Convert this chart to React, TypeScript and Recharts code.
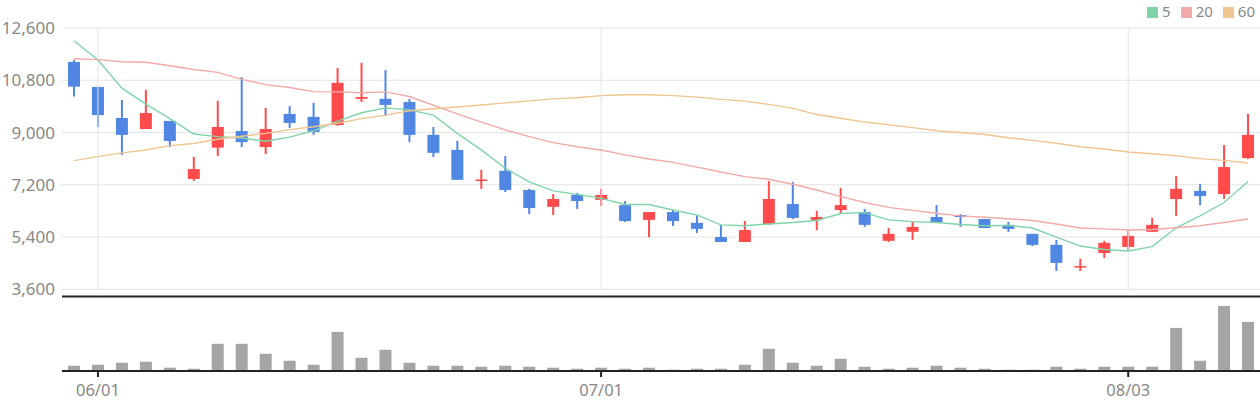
import {
  Bar,
  ComposedChart,
  CartesianGrid,
  Legend,
  Line,
  ReferenceLine,
  XAxis,
  YAxis,
} from "recharts";

const dates = [
  "05/31", "06/01", "06/02", "06/03", "06/04", "06/07", "06/08", "06/09", "06/10", "06/11",
  "06/14", "06/15", "06/16", "06/17", "06/18", "06/21", "06/22", "06/23", "06/24", "06/25",
  "06/28", "06/29", "07/01", "07/02", "07/05", "07/06", "07/07", "07/08", "07/09", "07/12",
  "07/13", "07/14", "07/15", "07/16", "07/19", "07/20", "07/21", "07/22", "07/23", "07/26",
  "07/27", "07/28", "07/29", "08/02", "08/03", "08/04", "08/05", "08/06", "08/09", "08/10",
];

const open = [
  11430, 10570, 9500, 9120, 9400, 7400, 8480, 9050, 8500, 9640,
  9540, 9260, 10160, 10160, 10050, 8920, 8400, 7340, 7680, 7020,
  6440, 6850, 6680, 6500, 5990, 6260, 5890, 5400, 5230, 5850,
  6540, 5990, 6330, 6260, 5270, 5580, 6090, 6160, 6020, 5820,
  5510, 5130, 4360, 4850, 5060, 5580, 6710, 6990, 6880, 8120,
];
const high = [
  11500, 10570, 10120, 10470, 9400, 8160, 10090, 10910, 9850, 9910,
  10020, 11220, 11400, 11150, 10160, 9190, 8710, 7710, 8190, 7060,
  6880, 6920, 7060, 6640, 6260, 6330, 6130, 5820, 5950, 7330,
  7300, 6300, 7090, 6370, 5710, 5950, 6500, 6190, 6020, 5920,
  5510, 5300, 4650, 5270, 5640, 6060, 7500, 7230, 8570, 9640,
];
const low = [
  10240, 9190, 8230, 9120, 8500, 7330, 8190, 8500, 8260, 9160,
  8920, 9230, 10050, 9570, 8670, 8160, 7370, 7060, 6950, 6190,
  6160, 6370, 6470, 5920, 5400, 5780, 5540, 5230, 5230, 5820,
  6020, 5640, 6230, 5750, 5230, 5300, 5890, 5750, 5710, 5580,
  5090, 4230, 4230, 4680, 4920, 5580, 6130, 6500, 6710, 8090,
];
const close = [
  10580, 9600, 8920, 9670, 8710, 7740, 9190, 8670, 9120, 9330,
  9020, 10710, 10220, 9950, 8920, 8300, 7370, 7380, 7020, 6400,
  6710, 6640, 6850, 5950, 6260, 5950, 5680, 5230, 5640, 6710,
  6060, 6090, 6500, 5820, 5510, 5750, 5920, 6090, 5710, 5680,
  5130, 4510, 4400, 5200, 5440, 5820, 7060, 6810, 7810, 8920,
];

const ma5 = [
  12160, 11500, 10530, 9980, 9480, 8950, 8860, 8810, 8700, 8840,
  9060, 9390, 9680, 9850, 9780, 9600, 8970, 8400, 7770, 7300,
  6990, 6870, 6730, 6520, 6520, 6330, 6160, 5820, 5790, 5850,
  5900, 5970, 6210, 6240, 5990, 5930, 5900, 5830, 5790, 5800,
  5710, 5400, 5090, 4970, 4920, 5070, 5720, 6130, 6590, 7310,
];
const ma20 = [
  11540, 11510, 11440, 11420, 11300, 11170, 11070, 10830, 10650, 10550,
  10410, 10400, 10370, 10400, 10240, 9940, 9640, 9360, 9090, 8860,
  8650, 8510, 8400, 8230, 8090, 7970, 7810, 7640, 7480, 7390,
  7220, 7020, 6790, 6590, 6420, 6320, 6220, 6130, 6080, 6030,
  5970, 5850, 5710, 5680, 5640, 5660, 5720, 5790, 5900, 6020,
];
const ma60 = [
  8030, 8170, 8300, 8400, 8550, 8620, 8770, 8870, 8970, 9100,
  9200, 9320, 9480, 9600, 9750, 9820, 9880, 9950, 10020, 10090,
  10160, 10200, 10270, 10300, 10300, 10270, 10220, 10140, 10080, 9970,
  9830, 9620, 9490, 9360, 9270, 9170, 9060, 9000, 8930, 8820,
  8730, 8630, 8510, 8430, 8330, 8270, 8200, 8100, 8040, 7950,
];

const volume = [
  53000, 63000, 83000, 93000, 33000, 23000, 273000, 273000, 173000, 103000,
  63000, 393000, 133000, 213000, 83000, 53000, 53000, 43000, 53000, 43000,
  33000, 23000, 33000, 23000, 33000, 13000, 23000, 23000, 63000, 223000,
  83000, 53000, 123000, 43000, 23000, 33000, 53000, 33000, 23000, 13000,
  13000, 43000, 23000, 43000, 43000, 43000, 433000, 103000, 653000, 493000,
];

const priceTicks = [3600, 5400, 7200, 9000, 10800, 12600];
const dateTicks = ["06/01", "07/01", "08/03"];

const UP = "#ff4b4b";
const DOWN = "#4f87e3";
const GRID = "#e3e3e3";
const TEXT = "#888888";
const FONT = '"Noto Sans", sans-serif';

const rows = dates.map((date, i) => ({
  date,
  open: open[i],
  high: high[i],
  low: low[i],
  close: close[i],
  range: [low[i], high[i]],
  ma5: ma5[i],
  ma20: ma20[i],
  ma60: ma60[i],
  volume: volume[i],
}));

// Bar gives us the high-low span in pixels; open/close are placed inside it
// using the same value-to-pixel ratio.
function Candle(props: any) {
  const { x, y, width, height, payload } = props;
  if (x == null || y == null) return null;
  const top = Math.min(y, y + height);
  const h = Math.abs(height);
  const span = payload.high - payload.low || 1;
  const py = (v: number) => top + ((payload.high - v) / span) * h;
  const color = payload.close >= payload.open ? UP : DOWN;
  const bodyTop = py(Math.max(payload.open, payload.close));
  const bodyH = Math.max(1.5, Math.abs(py(payload.open) - py(payload.close)));
  const cx = x + width / 2;
  return (
    <g>
      <rect x={cx - 1} y={top} width={2} height={h} fill={color} />
      <rect x={x} y={bodyTop} width={width} height={bodyH} fill={color} />
    </g>
  );
}

function PriceTick(props: any) {
  const { x, y, payload } = props;
  return (
    <text
      x={x}
      y={y}
      dy="0.36em"
      textAnchor="end"
      fill={TEXT}
      fontSize={17}
      fontFamily={FONT}
    >
      {Number(payload.value).toLocaleString("en-US")}
    </text>
  );
}

export default function App() {
  return (
    <div
      style={{
        position: "absolute",
        left: 0,
        top: 0,
        width: 1260,
        height: 400,
        background: "#fff",
        fontFamily: FONT,
      }}
    >
      <div style={{ position: "absolute", left: 0, top: 0 }}>
        <ComposedChart
          width={1260}
          height={300}
          data={rows}
          margin={{ top: 28, right: 0, bottom: 2.5, left: 0 }}
        >
          <CartesianGrid stroke={GRID} vertical={false} />
          {dateTicks.map((d) => (
            <ReferenceLine
              key={d}
              segment={[
                { x: d, y: 3600 },
                { x: d, y: 12600 },
              ]}
              stroke={GRID}
            />
          ))}
          <XAxis
            dataKey="date"
            height={1}
            tick={false}
            tickLine={false}
            axisLine={{ stroke: "#222", strokeWidth: 2 }}
          />
          <YAxis
            width={62}
            domain={[3352, 12600]}
            ticks={priceTicks}
            allowDataOverflow
            axisLine={false}
            tickLine={false}
            tickSize={0}
            tickMargin={7}
            tick={<PriceTick />}
          />
          <Legend
            layout="horizontal"
            verticalAlign="top"
            align="right"
            iconType="square"
            iconSize={11}
            itemSorter={(item: any) => Number(item.value)}
            wrapperStyle={{
              top: 0,
              right: -5,
              height: 0,
              overflow: "visible",
              fontSize: 15,
              lineHeight: "22px",
              fontFamily: FONT,
            }}
            formatter={(v: string) => <span style={{ color: TEXT }}>{v}</span>}
          />
          <Line name="5" dataKey="ma5" stroke="#7fd4a8" strokeWidth={1.4} dot={false} activeDot={false} isAnimationActive={false} />
          <Line name="20" dataKey="ma20" stroke="#f2a9a9" strokeWidth={1.4} dot={false} activeDot={false} isAnimationActive={false} />
          <Line name="60" dataKey="ma60" stroke="#f0c592" strokeWidth={1.4} dot={false} activeDot={false} isAnimationActive={false} />
          <Bar dataKey="range" barSize={12} shape={Candle} legendType="none" isAnimationActive={false} />
        </ComposedChart>
      </div>
      <div style={{ position: "absolute", left: 0, top: 297 }}>
        <ComposedChart
          width={1260}
          height={103}
          data={rows}
          margin={{ top: 0, right: 0, bottom: 0, left: 62 }}
        >
          <XAxis
            dataKey="date"
            ticks={dateTicks}
            interval={0}
            height={29}
            axisLine={{ stroke: "#222", strokeWidth: 2 }}
            tickLine={{ stroke: "#222", strokeWidth: 2 }}
            tickSize={6}
            tickMargin={7}
            fontSize={16.5}
            tick={{ fill: TEXT, fontSize: 16.5, fontFamily: FONT }}
          />
          <YAxis hide domain={[0, 743000]} />
          <Bar dataKey="volume" barSize={12} fill="#a5a5a5" isAnimationActive={false} />
        </ComposedChart>
      </div>
    </div>
  );
}
